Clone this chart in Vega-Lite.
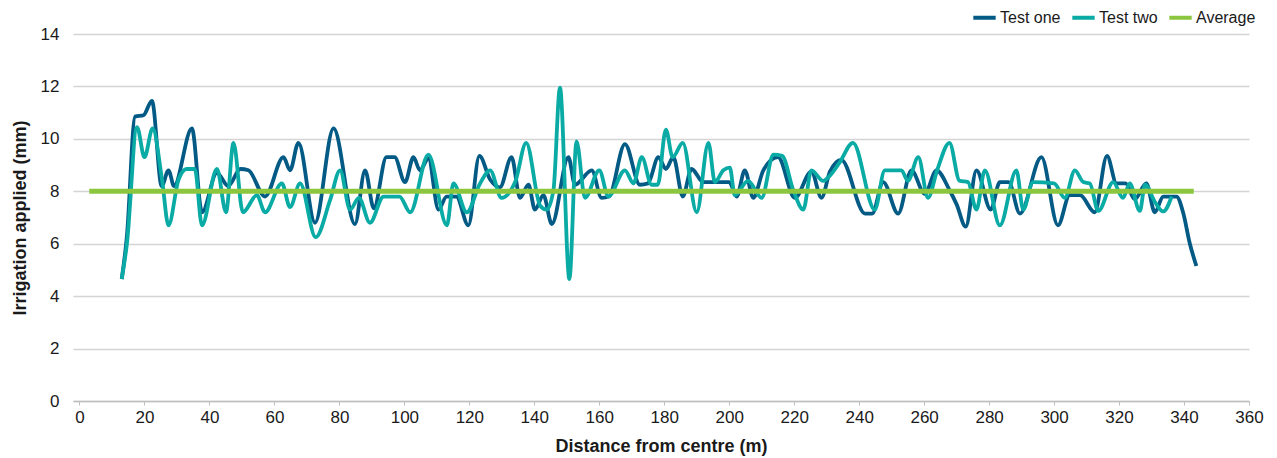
{
  "$schema": "https://vega.github.io/schema/vega-lite/v6.json",
  "width": 1176,
  "height": 367,
  "autosize": {"type": "none"},
  "padding": {"left": 73, "top": 34, "right": 28, "bottom": 57},
  "background": "white",
  "config": {
    "view": {"stroke": null},
    "font": "Liberation Sans",
    "axis": {"labelFont": "Liberation Sans", "titleFont": "Liberation Sans", "labelColor": "#1a1a1a", "titleColor": "#1a1a1a"}
  },
  "datasets": {
    "one": [
      {"d":13,"v":4.65},{"d":14.6,"v":6.3},{"d":17.1,"v":10.85},{"d":19.7,"v":10.9},{"d":22.3,"v":11.45},{"d":25.3,"v":8.2},{"d":27.4,"v":8.8},{"d":29.1,"v":8.2},{"d":34.6,"v":10.4},{"d":37.7,"v":7.2},{"d":42.3,"v":8.7},{"d":45.8,"v":8.2},{"d":49.5,"v":8.85},{"d":52,"v":8.8},{"d":57.1,"v":7.8},{"d":62.8,"v":9.3},{"d":64.8,"v":8.8},{"d":67.4,"v":9.85},{"d":72.5,"v":6.8},{"d":78.2,"v":10.4},{"d":84.8,"v":6.75},{"d":87.9,"v":8.8},{"d":90.6,"v":7.35},{"d":94.5,"v":9.3},{"d":97,"v":9.3},{"d":100.2,"v":8.35},{"d":102.8,"v":9.3},{"d":104.8,"v":8.8},{"d":107.4,"v":9.25},{"d":110.5,"v":7.3},{"d":113,"v":7.8},{"d":116,"v":7.8},{"d":119.7,"v":6.7},{"d":123.1,"v":9.35},{"d":126.4,"v":8.45},{"d":129.4,"v":8.15},{"d":133,"v":9.3},{"d":135.6,"v":7.75},{"d":138.2,"v":8.25},{"d":140.2,"v":7.3},{"d":142.8,"v":7.85},{"d":145.4,"v":6.75},{"d":150.5,"v":9.3},{"d":152.5,"v":8.25},{"d":157.7,"v":8.8},{"d":160.7,"v":7.75},{"d":163,"v":7.8},{"d":167.9,"v":9.8},{"d":172.5,"v":8.25},{"d":175,"v":8.3},{"d":178.2,"v":9.3},{"d":180.5,"v":8.85},{"d":182.8,"v":9.3},{"d":185.7,"v":7.8},{"d":188.4,"v":8.85},{"d":192,"v":8.35},{"d":196,"v":8.35},{"d":200,"v":8.35},{"d":202.3,"v":7.8},{"d":204.8,"v":8.8},{"d":207.4,"v":7.75},{"d":210.5,"v":8.8},{"d":215,"v":9.3},{"d":220.2,"v":7.75},{"d":225.3,"v":8.75},{"d":228.4,"v":7.75},{"d":231,"v":8.75},{"d":234.5,"v":9.2},{"d":241.8,"v":7.15},{"d":244,"v":7.15},{"d":247.4,"v":8.35},{"d":252,"v":7.15},{"d":256.1,"v":8.8},{"d":260.2,"v":7.9},{"d":263.8,"v":8.8},{"d":267.8,"v":8.05},{"d":270,"v":7.5},{"d":272.8,"v":6.65},{"d":276.1,"v":8.8},{"d":280.5,"v":7.3},{"d":283.3,"v":8.35},{"d":286,"v":8.35},{"d":289.5,"v":7.15},{"d":296.1,"v":9.3},{"d":301.2,"v":6.7},{"d":304.8,"v":7.85},{"d":308,"v":7.85},{"d":312.5,"v":7.2},{"d":316.3,"v":9.35},{"d":319.2,"v":8.3},{"d":322,"v":8.3},{"d":324.8,"v":7.7},{"d":328.4,"v":8.3},{"d":331,"v":7.2},{"d":333.6,"v":7.8},{"d":337.7,"v":7.8},{"d":339.7,"v":7.2},{"d":341.8,"v":6.0},{"d":343.8,"v":5.15}
    ],
    "two": [
      {"d":13,"v":4.65},{"d":14.6,"v":6.0},{"d":17.7,"v":10.45},{"d":20,"v":9.3},{"d":22.5,"v":10.4},{"d":25.4,"v":8.45},{"d":27.4,"v":6.7},{"d":30.5,"v":8.45},{"d":33,"v":8.85},{"d":35.5,"v":8.85},{"d":37.7,"v":6.7},{"d":42.3,"v":8.85},{"d":45.1,"v":7.2},{"d":47.4,"v":9.85},{"d":50.3,"v":7.2},{"d":54.6,"v":7.85},{"d":57.1,"v":7.2},{"d":62.3,"v":8.3},{"d":64.8,"v":7.4},{"d":67.9,"v":8.3},{"d":72.7,"v":6.25},{"d":77.1,"v":7.65},{"d":80.2,"v":8.8},{"d":83.3,"v":7.3},{"d":86,"v":7.75},{"d":89.4,"v":6.8},{"d":93.6,"v":7.8},{"d":98.5,"v":7.8},{"d":101.8,"v":7.2},{"d":107.4,"v":9.4},{"d":113.1,"v":6.7},{"d":115.1,"v":8.3},{"d":119.2,"v":7.2},{"d":123.3,"v":8.3},{"d":126.4,"v":8.8},{"d":129.9,"v":7.75},{"d":134.1,"v":8.35},{"d":137.5,"v":9.85},{"d":141.8,"v":7.45},{"d":143.8,"v":7.3},{"d":145.9,"v":8.05},{"d":147.9,"v":11.95},{"d":150.8,"v":4.65},{"d":153,"v":9.9},{"d":155.6,"v":7.75},{"d":160,"v":8.8},{"d":162.8,"v":7.8},{"d":167.9,"v":8.8},{"d":170.5,"v":8.3},{"d":173.1,"v":9.3},{"d":176.1,"v":8.25},{"d":178,"v":8.25},{"d":180.5,"v":10.35},{"d":182.6,"v":9.3},{"d":185.7,"v":9.85},{"d":190,"v":7.2},{"d":193.6,"v":9.85},{"d":195.6,"v":8.35},{"d":198.2,"v":8.8},{"d":200.2,"v":8.9},{"d":201.7,"v":7.85},{"d":205.8,"v":8.4},{"d":210,"v":7.75},{"d":213.6,"v":9.4},{"d":216.3,"v":9.35},{"d":219.7,"v":8.05},{"d":222.8,"v":7.3},{"d":225.3,"v":8.8},{"d":228.9,"v":8.4},{"d":231,"v":8.6},{"d":234,"v":9.1},{"d":238.1,"v":9.85},{"d":244.8,"v":7.3},{"d":247.9,"v":8.8},{"d":253,"v":8.8},{"d":255,"v":8.4},{"d":258.2,"v":9.3},{"d":261.2,"v":7.75},{"d":264,"v":8.8},{"d":267.8,"v":9.85},{"d":270.9,"v":8.4},{"d":273.5,"v":8.35},{"d":276.1,"v":7.3},{"d":278.7,"v":8.8},{"d":283.3,"v":6.7},{"d":288.4,"v":8.8},{"d":290.5,"v":7.3},{"d":293.5,"v":8.35},{"d":300,"v":8.3},{"d":303.3,"v":7.75},{"d":306.4,"v":8.8},{"d":309,"v":8.35},{"d":311,"v":8.3},{"d":313.6,"v":7.25},{"d":318.2,"v":8.35},{"d":321.2,"v":7.75},{"d":323.3,"v":8.3},{"d":326.4,"v":7.25},{"d":328,"v":8.25},{"d":331,"v":7.6},{"d":333.6,"v":7.23},{"d":336.2,"v":7.8}
    ],
    "avg": [{"d":3,"v":8},{"d":343,"v":8}]
  },
  "encoding": {
    "x": {
      "field": "d", "type": "quantitative",
      "scale": {"domain": [-2, 360], "nice": false, "zero": false},
      "axis": {
        "title": "Distance from centre (m)", "values": [0,20,40,60,80,100,120,140,160,180,200,220,240,260,280,300,320,340,360],
        "grid": false, "domainColor": "#bfbfbf", "domainWidth": 1.5, "tickColor": "#bfbfbf", "tickSize": 4,
        "labelFlush": false, "labelOverlap": false,
        "labelFontSize": 17, "labelPadding": 4, "titleFontSize": 18, "titleFontWeight": "bold", "titlePadding": 12
      }
    },
    "y": {
      "field": "v", "type": "quantitative",
      "scale": {"domain": [0, 14], "nice": false},
      "axis": {
        "title": "Irrigation applied (mm)", "values": [0,2,4,6,8,10,12,14],
        "domain": false, "ticks": false, "gridColor": "#d4d4d4", "gridWidth": 1.5,
        "labelFontSize": 17, "labelPadding": 14, "titleFontSize": 18, "titleFontWeight": "bold", "titlePadding": 11
      }
    },
    "color": {
      "type": "nominal",
      "scale": {"domain": ["Test one", "Test two", "Average"], "range": ["#035a84", "#0aaaa5", "#8cc63f"]},
      "legend": {
        "title": null, "orient": "none", "direction": "horizontal", "legendX": 898, "legendY": -30,
        "symbolType": "stroke", "symbolSize": 500, "symbolStrokeWidth": 4, "labelFontSize": 16, "labelFont": "Liberation Sans",
        "labelColor": "#1a1a1a", "labelOffset": 2, "columnPadding": 3, "padding": 0
      }
    }
  },
  "layer": [
    {
      "data": {"name": "one"},
      "encoding": {"color": {"datum": "Test one"}},
      "mark": {"type": "line", "interpolate": "monotone", "strokeWidth": 3.8}
    },
    {
      "data": {"name": "two"},
      "encoding": {"color": {"datum": "Test two"}},
      "mark": {"type": "line", "interpolate": "monotone", "strokeWidth": 3.8}
    },
    {
      "data": {"name": "avg"},
      "encoding": {"color": {"datum": "Average"}},
      "mark": {"type": "line", "strokeWidth": 5}
    }
  ]
}
